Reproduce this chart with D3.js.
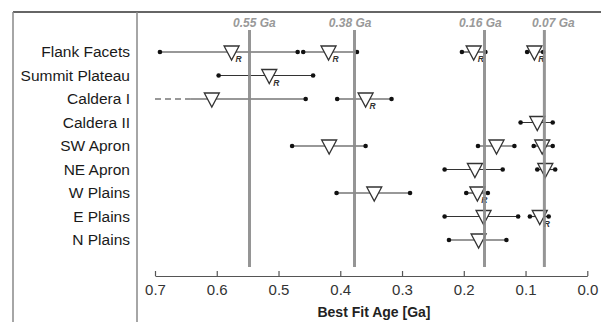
<!DOCTYPE html>
<html>
<head>
<meta charset="utf-8">
<script src="https://cdn.jsdelivr.net/npm/d3@7"></script>
<style>
  html, body { margin: 0; padding: 0; background: #fff; }
  svg { display: block; font-family: "Liberation Sans", Arial, sans-serif; }
</style>
</head>
<body>
<script>
// units (rows top to bottom)
const rows = ['Flank Facets', 'Summit Plateau', 'Caldera I', 'Caldera II', 'SW Apron',
              'NE Apron', 'W Plains', 'E Plains', 'N Plains']

// one entry per age estimate: row index, oldest / best / youngest age [Ga]
const segRow   = [0, 0, 0, 0, 1, 2, 2, 3, 4, 4, 4, 5, 5, 6, 6, 7, 7, 8]
const segOld   = [0.692, 0.460, 0.203, 0.0975, 0.597, 0.70, 0.405, 0.108, 0.478, 0.177, 0.0868, 0.231, 0.081, 0.406, 0.196, 0.231, 0.093, 0.224]
const segBest  = [0.576, 0.419, 0.184, 0.0857, 0.515, 0.608, 0.359, 0.081, 0.418, 0.147, 0.073, 0.182, 0.068, 0.345, 0.178, 0.168, 0.077, 0.176]
const segYoung = [0.469, 0.373, 0.165, 0.0716, 0.444, 0.456, 0.317, 0.056, 0.359, 0.118, 0.056, 0.137, 0.052, 0.287, 0.161, 0.112, 0.0625, 0.131]
const segR     = [1, 1, 1, 1, 1, 0, 1, 0, 0, 0, 0, 0, 0, 0, 1, 0, 1, 0]
// older bound only constrained (dashed) down to this age; null = solid with end dot
const segSolidFrom = [null, null, null, null, null, 0.643, null, null, null, null, null, null, null, null, null, null, null, null]

// reference ages
const refAges   = [0.547, 0.377, 0.1665, 0.0695]
const refLabels = ['0.55 Ga', '0.38 Ga', '0.16 Ga', '0.07 Ga']
const refLabelAt = [0.539, 0.384, 0.173, 0.055]

const xTicks = [0.7, 0.6, 0.5, 0.4, 0.3, 0.2, 0.1, 0.0]

const width = 601, height = 322
const svg = d3.select('body').append('svg').attr('width', width).attr('height', height)

const x = d3.scaleLinear().domain([0.7, 0]).range([155, 587.3])
const y = d3.scalePoint().domain(rows).range([52, 240])

// frame
svg.append('line').attr('x1', 13).attr('x2', width).attr('y1', 12).attr('y2', 12)
    .attr('stroke', '#333').attr('stroke-width', 1.5)
svg.append('line').attr('x1', 13).attr('x2', 13).attr('y1', 12).attr('y2', height)
    .attr('stroke', '#888').attr('stroke-width', 1.5)
svg.append('line').attr('x1', 137).attr('x2', 137).attr('y1', 12).attr('y2', height)
    .attr('stroke', '#888').attr('stroke-width', 1.5)

// row labels
svg.append('g').selectAll('text').data(rows).join('text')
    .attr('x', 130).attr('y', d => y(d) + 5)
    .attr('text-anchor', 'end').attr('font-size', 15.5).attr('fill', '#1a1a1a')
    .text(d => d)

// x axis
const axis = svg.append('g').attr('transform', 'translate(0,276)')
    .call(d3.axisBottom(x).tickValues(xTicks).tickFormat(d3.format('.1f'))
        .tickSize(-5).tickSizeOuter(0).tickPadding(8))
axis.select('.domain').attr('stroke', '#555').attr('stroke-width', 1.2)
axis.selectAll('.tick line').attr('stroke', '#555').attr('stroke-width', 1.2)
axis.selectAll('.tick text').attr('font-size', 15).attr('fill', '#333')
    .attr('font-family', '"Liberation Sans", Arial, sans-serif')

svg.append('text').attr('x', 374).attr('y', 317).attr('text-anchor', 'middle')
    .attr('font-size', 14).attr('font-weight', 'bold').attr('fill', '#222')
    .text('Best Fit Age [Ga]')

const idx = d3.range(segRow.length)
const g = svg.append('g')

// age ranges
idx.forEach(i => {
    const cy = y(rows[segRow[i]])
    const left = segSolidFrom[i] == null ? segOld[i] : segSolidFrom[i]
    if (segSolidFrom[i] != null) {
        g.append('line').attr('x1', x(segOld[i])).attr('x2', x(segSolidFrom[i]))
            .attr('y1', cy).attr('y2', cy)
            .attr('stroke', '#777').attr('stroke-width', 1.3).attr('stroke-dasharray', '6,4')
    }
    g.append('line').attr('x1', x(left)).attr('x2', x(segYoung[i]))
        .attr('y1', cy).attr('y2', cy)
        .attr('stroke', '#333').attr('stroke-width', 1.2)
    const ends = segSolidFrom[i] == null ? [segOld[i], segYoung[i]] : [segYoung[i]]
    ends.forEach(v => {
        g.append('circle').attr('cx', x(v)).attr('cy', cy).attr('r', 2.3).attr('fill', '#111')
    })
})

// best fit markers
const tri = d3.line()
idx.forEach(i => {
    const cx = x(segBest[i]), cy = y(rows[segRow[i]])
    g.append('path')
        .attr('d', tri([[cx - 7.5, cy - 6], [cx + 7.5, cy - 6], [cx, cy + 8]]) + 'Z')
        .attr('fill', '#fff').attr('stroke', '#333').attr('stroke-width', 1.3)
    if (segR[i]) {
        g.append('text').attr('x', cx + 4).attr('y', cy + 10)
            .attr('font-size', 8.5).attr('font-weight', 'bold').attr('font-style', 'italic')
            .attr('fill', '#333').text('R')
    }
})

// reference ages
svg.append('g').selectAll('line').data(refAges).join('line')
    .attr('x1', d => x(d)).attr('x2', d => x(d)).attr('y1', 30).attr('y2', 267)
    .attr('stroke', '#8a8a8a').attr('stroke-width', 3).attr('opacity', 0.9)
svg.append('g').selectAll('text').data(refLabels).join('text')
    .attr('x', (d, i) => x(refLabelAt[i])).attr('y', 27)
    .attr('text-anchor', 'middle').attr('font-size', 12)
    .attr('font-weight', 'bold').attr('font-style', 'italic').attr('fill', '#999')
    .text(d => d)
</script>
</body>
</html>
